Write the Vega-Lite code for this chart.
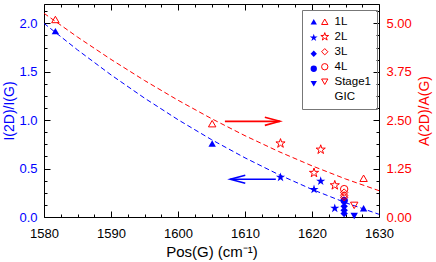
{
  "$schema": "https://vega.github.io/schema/vega-lite/v6.json",
  "width": 335,
  "height": 213,
  "autosize": "none",
  "padding": {"left": 44, "top": 4, "right": 57, "bottom": 45},
  "config": {
    "view": {"stroke": "black", "strokeWidth": 1},
    "font": "Liberation Sans",
    "axis": {"tickColor": "black", "tickWidth": 1, "labelFont": "Liberation Sans", "titleFont": "Liberation Sans", "grid": false, "domain": false, "labelFlush": false},
    "legend": {"labelFont": "Liberation Sans"}
  },
  "datasets": {
    "pts": [
      {"layer": "1L", "pos": 1581.7, "i": 1.92, "a": 5.10},
      {"layer": "1L", "pos": 1605.1, "i": 0.76, "a": 2.41},
      {"layer": "1L", "pos": 1627.7, "i": 0.09, "a": 1.00},
      {"layer": "2L", "pos": 1615.3, "i": 0.41, "a": 1.90},
      {"layer": "2L", "pos": 1621.3, "i": 0.37, "a": 1.74},
      {"layer": "2L", "pos": 1620.3, "i": 0.285, "a": 1.14},
      {"layer": "2L", "pos": 1623.4, "i": 0.09, "a": 0.82},
      {"layer": "3L", "pos": 1624.8, "i": 0.11, "a": 0.63},
      {"layer": "3L", "pos": 1624.8, "i": 0.07, "a": 0.56},
      {"layer": "3L", "pos": 1624.8, "i": 0.035, "a": 0.51},
      {"layer": "4L", "pos": 1624.8, "i": 0.17, "a": 0.72},
      {"layer": "Stage1", "pos": 1626.3, "i": 0.01, "a": 0.30}
    ],
    "fit": [
      {"pos": 1580, "i": 2.0, "a": 5.26},
      {"pos": 1585, "i": 1.726, "a": 4.647},
      {"pos": 1590, "i": 1.468, "a": 4.069},
      {"pos": 1595, "i": 1.228, "a": 3.525},
      {"pos": 1600, "i": 1.005, "a": 3.015},
      {"pos": 1605, "i": 0.799, "a": 2.54},
      {"pos": 1610, "i": 0.611, "a": 2.099},
      {"pos": 1615, "i": 0.439, "a": 1.693},
      {"pos": 1620, "i": 0.285, "a": 1.321},
      {"pos": 1625, "i": 0.148, "a": 0.983},
      {"pos": 1630, "i": 0.028, "a": 0.68}
    ],
    "redArrow": [{"x1": 1607.0, "x2": 1615.2, "a": 2.47}],
    "blueArrow": [{"x1": 1614.6, "x2": 1607.8, "i": 0.39}]
  },
  "layer": [
    {
      "layer": [
        {
          "data": {"name": "fit"},
          "mark": {"type": "line", "color": "blue", "strokeWidth": 1, "strokeDash": [5, 3]},
          "encoding": {
            "x": {"field": "pos", "type": "quantitative",
              "scale": {"domain": [1580, 1630], "nice": false, "zero": false},
              "axis": {"orient": "bottom", "values": [1580, 1590, 1600, 1610, 1620, 1630], "format": "d",
                "tickSize": -6, "labelPadding": 16, "labelFontSize": 13, "labelColor": "black",
                "title": "Pos(G) (cm⁻¹)", "titleFontSize": 15, "titleFontWeight": "normal", "titleColor": "black", "titlePadding": 4}},
            "y": {"field": "i", "type": "quantitative",
              "scale": {"domain": [0, 2.2], "nice": false},
              "axis": {"orient": "left", "values": [0, 0.5, 1, 1.5, 2], "format": ".1f",
                "tickSize": -6, "labelPadding": 13, "labelFontSize": 13, "labelColor": "blue",
                "title": "I(2D)/I(G)", "titleFontSize": 14, "titleFontWeight": "normal", "titleColor": "blue", "titlePadding": 2}}
          }
        },
        {
          "data": {"name": "pts"},
          "mark": {"type": "point", "filled": true, "color": "blue", "opacity": 1, "size": 55},
          "encoding": {
            "x": {"field": "pos", "type": "quantitative", "scale": {"domain": [1580, 1630], "nice": false, "zero": false},
              "axis": {"orient": "bottom", "values": [1582.5,1585,1587.5,1592.5,1595,1597.5,1602.5,1605,1607.5,1612.5,1615,1617.5,1622.5,1625,1627.5], "labels": false, "tickSize": -3, "title": null}},
            "y": {"field": "i", "type": "quantitative",
              "axis": {"orient": "left", "values": [0.125,0.25,0.375,0.625,0.75,0.875,1.125,1.25,1.375,1.625,1.75,1.875,2.125], "labels": false, "tickSize": -3, "title": null}},
            "shape": {"field": "layer", "type": "nominal",
              "scale": {"domain": ["1L", "2L", "3L", "4L", "Stage1", "GIC"], "range": ["triangle-up", "M0,-1.3L0.293,-0.402L1.236,-0.402L0.472,0.153L0.764,1.052L0,0.497L-0.764,1.052L-0.472,0.153L-1.236,-0.402L-0.293,-0.402Z", "diamond", "circle", "triangle-down", "M0,0"]},
              "legend": {"orient": "none", "legendX": 258, "legendY": 6, "title": null, "padding": 6,
                "symbolFillColor": "blue", "symbolStrokeColor": "blue", "symbolSize": 40,
                "labelFontSize": 11.5, "labelExpr": "''", "labelOffset": 2, "rowPadding": 2}}
          }
        },
        {
          "data": {"name": "blueArrow"},
          "mark": {"type": "rule", "color": "blue", "strokeWidth": 1.6},
          "encoding": {
            "x": {"field": "x1", "type": "quantitative", "scale": {"domain": [1580, 1630], "nice": false, "zero": false}, "axis": null},
            "x2": {"field": "x2"},
            "y": {"field": "i", "type": "quantitative", "axis": null}
          }
        },
        {
          "data": {"name": "blueArrow"},
          "mark": {"type": "point", "filled": false, "color": "blue", "opacity": 1, "strokeWidth": 1.6, "size": 900, "shape": "M1,-0.27L0,0L1,0.27"},
          "encoding": {
            "x": {"field": "x2", "type": "quantitative", "scale": {"domain": [1580, 1630], "nice": false, "zero": false}, "axis": null},
            "y": {"field": "i", "type": "quantitative", "axis": null}
          }
        }
      ],
      "resolve": {"axis": {"x": "independent", "y": "independent"}}
    },
    {
      "layer": [
        {
          "data": {"name": "fit"},
          "mark": {"type": "line", "color": "red", "strokeWidth": 1, "strokeDash": [5, 3]},
          "encoding": {
            "x": {"field": "pos", "type": "quantitative",
              "scale": {"domain": [1580, 1630], "nice": false, "zero": false},
              "axis": {"orient": "top", "values": [1580, 1590, 1600, 1610, 1620, 1630], "labels": false, "tickSize": -6, "title": null}},
            "y": {"field": "a", "type": "quantitative",
              "scale": {"domain": [0, 5.5], "nice": false},
              "axis": {"orient": "right", "values": [0, 1.25, 2.5, 3.75, 5], "format": ".2f",
                "tickSize": -6, "labelPadding": 13, "labelFontSize": 13, "labelColor": "red",
                "title": "A(2D)/A(G)", "titleFontSize": 14, "titleFontWeight": "normal", "titleColor": "red",
                "titleAngle": 270, "titleBaseline": "top", "titlePadding": 6}}
          }
        },
        {
          "data": {"name": "pts"},
          "mark": {"type": "point", "filled": false, "color": "red", "opacity": 1, "strokeWidth": 1, "size": 55},
          "encoding": {
            "x": {"field": "pos", "type": "quantitative", "scale": {"domain": [1580, 1630], "nice": false, "zero": false},
              "axis": {"orient": "top", "values": [1582.5,1585,1587.5,1592.5,1595,1597.5,1602.5,1605,1607.5,1612.5,1615,1617.5,1622.5,1625,1627.5], "labels": false, "tickSize": -3, "title": null}},
            "y": {"field": "a", "type": "quantitative",
              "axis": {"orient": "right", "values": [0.3125,0.625,0.9375,1.5625,1.875,2.1875,2.8125,3.125,3.4375,4.0625,4.375,4.6875,5.3125], "labels": false, "tickSize": -3, "title": null}},
            "shape": {"field": "layer", "type": "nominal",
              "scale": {"domain": ["1L", "2L", "3L", "4L", "Stage1", "GIC"], "range": ["triangle-up", "M0,-1.3L0.293,-0.402L1.236,-0.402L0.472,0.153L0.764,1.052L0,0.497L-0.764,1.052L-0.472,0.153L-1.236,-0.402L-0.293,-0.402Z", "diamond", "circle", "triangle-down", "M0,0"]},
              "legend": {"orient": "none", "legendX": 258, "legendY": 6, "title": null, "padding": 6,
                "strokeColor": "#777",
                "symbolOffset": 11,
                "symbolFillColor": "transparent", "symbolStrokeColor": "red", "symbolStrokeWidth": 1, "symbolSize": 40,
                "labelFontSize": 11.5, "labelColor": "black", "labelOffset": 4, "rowPadding": 2,
                "labelExpr": "datum.label === 'GIC' ? '\u00a0\u00a0GIC' : datum.label"}}
          }
        },
        {
          "data": {"name": "redArrow"},
          "mark": {"type": "rule", "color": "red", "strokeWidth": 1.6},
          "encoding": {
            "x": {"field": "x1", "type": "quantitative", "scale": {"domain": [1580, 1630], "nice": false, "zero": false}, "axis": null},
            "x2": {"field": "x2"},
            "y": {"field": "a", "type": "quantitative", "axis": null}
          }
        },
        {
          "data": {"name": "redArrow"},
          "mark": {"type": "point", "filled": false, "color": "red", "opacity": 1, "strokeWidth": 1.6, "size": 900, "shape": "M-1,-0.27L0,0L-1,0.27"},
          "encoding": {
            "x": {"field": "x2", "type": "quantitative", "scale": {"domain": [1580, 1630], "nice": false, "zero": false}, "axis": null},
            "y": {"field": "a", "type": "quantitative", "axis": null}
          }
        }
      ],
      "resolve": {"axis": {"x": "independent", "y": "independent"}}
    }
  ],
  "resolve": {"scale": {"y": "independent", "shape": "independent"}, "axis": {"x": "independent"}, "legend": {"shape": "independent"}}
}
